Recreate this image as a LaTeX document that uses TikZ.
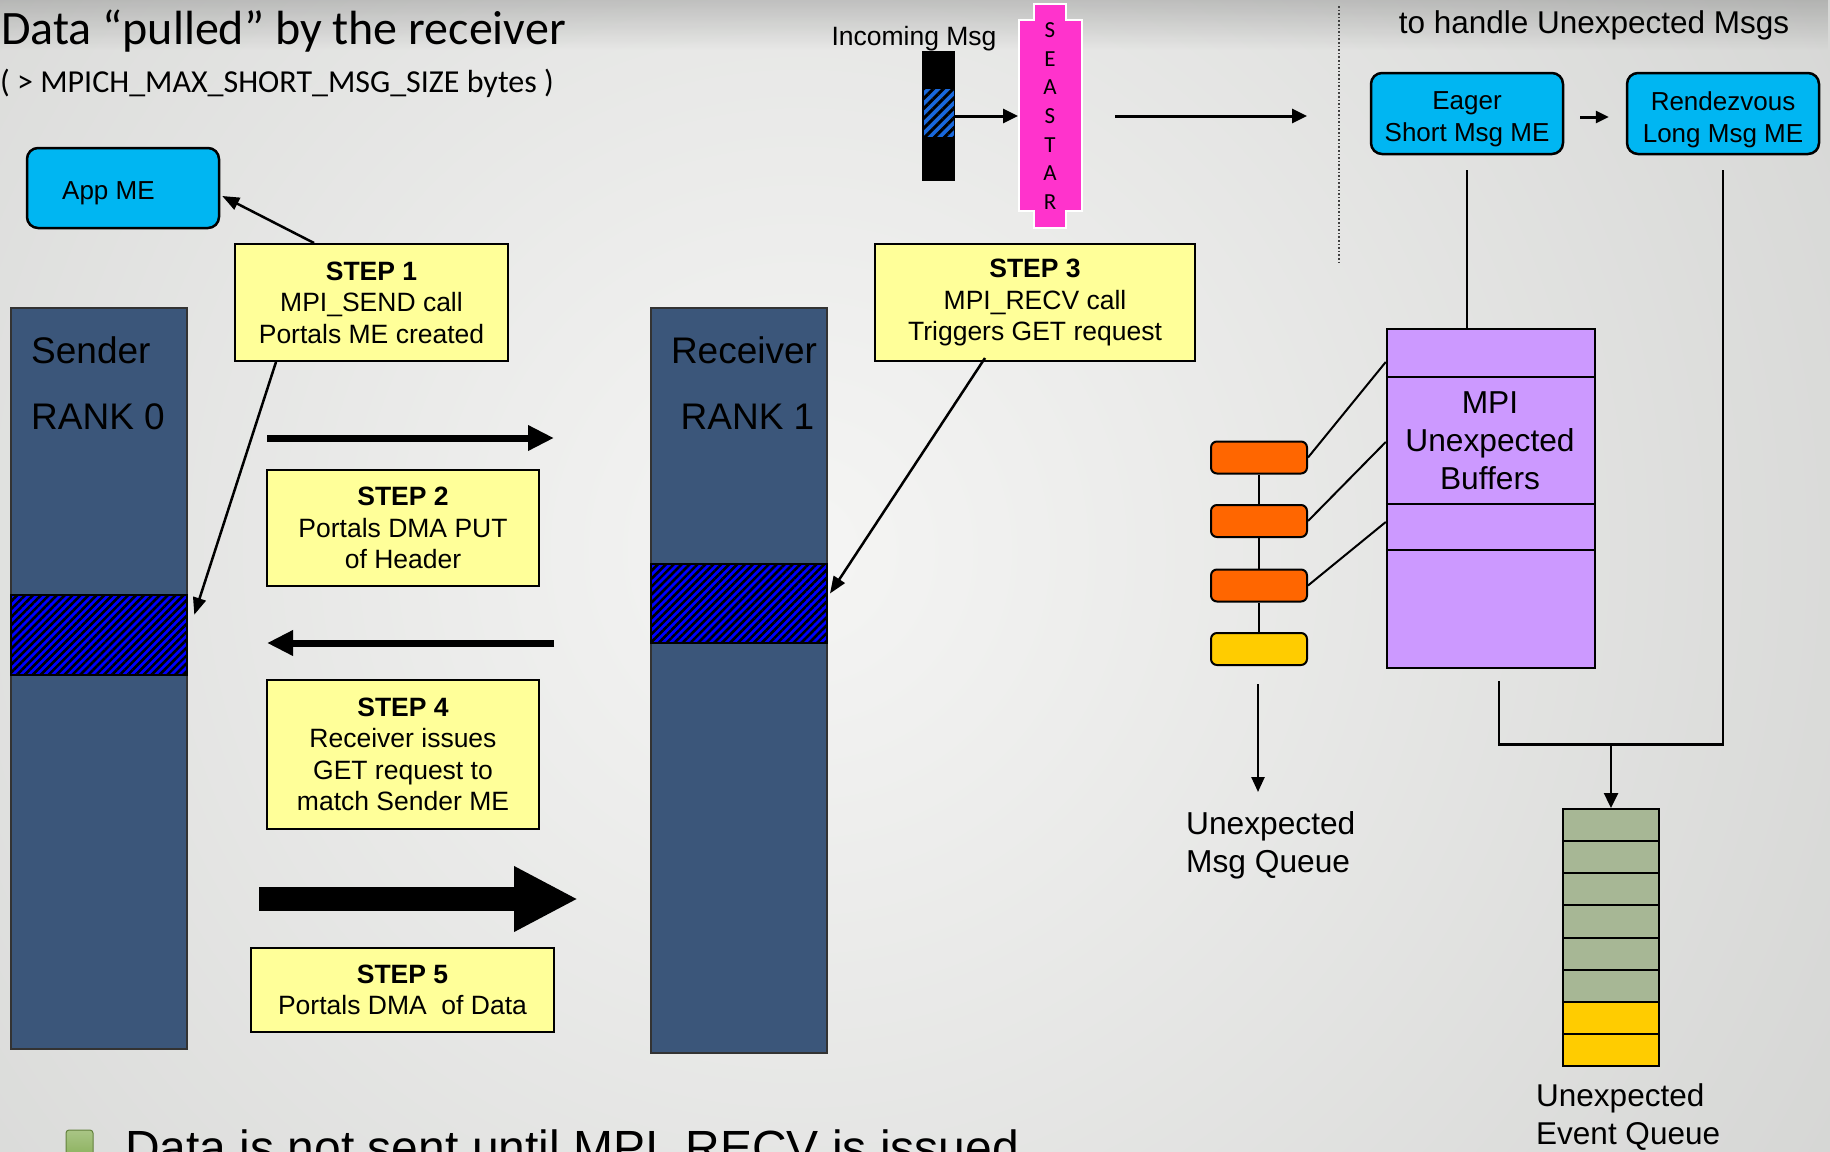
\documentclass[tikz,border=0pt]{standalone}
\usepackage{fontspec}
\setmainfont{Liberation Sans}
\newfontfamily\titlefont{Carlito}
\usetikzlibrary{arrows.meta,patterns.meta,calc,fadings}

\definecolor{bginner}{RGB}{245,245,244}
\definecolor{bgouter}{RGB}{206,207,205}
\definecolor{mecyan}{RGB}{0,182,242}
\definecolor{stepyel}{RGB}{255,255,153}
\definecolor{rankblue}{RGB}{59,86,122}
\definecolor{hatchblue}{RGB}{0,0,255}
\definecolor{msgblue}{RGB}{24,104,220}
\definecolor{seamag}{RGB}{255,51,204}
\definecolor{buflil}{RGB}{204,153,255}
\definecolor{qorange}{RGB}{255,102,0}
\definecolor{qyellow}{RGB}{255,204,0}
\definecolor{evgreen}{RGB}{167,183,149}
\definecolor{bulgreen}{RGB}{132,172,82}

\begin{document}
\begin{tikzpicture}[x=1pt,y=-1pt,
  mebox/.style={draw=black, line width=2.5pt, fill=mecyan, rounded corners=11pt,
    inner sep=0pt},
  metext/.style={inner sep=0pt, align=center, font=\fontsize{26}{32}\selectfont},
  stepbox/.style={draw=black, line width=2pt, fill=stepyel, inner sep=0pt,
    align=center, font=\fontsize{26.5}{31.5}\selectfont},
  rankbar/.style={draw=black!80, line width=2pt, fill=rankblue, inner sep=0pt},
  hatchband/.style={draw=black, line width=2pt, inner sep=0pt,
    preaction={fill=hatchblue},
    pattern={Lines[angle=45,distance=5.6pt,line width=2.6pt]}, pattern color=black},
  ranklabel/.style={font=\fontsize{37}{44}\selectfont, inner sep=0pt},
  ptr/.style={line width=2.5pt, -{Triangle[length=17pt,width=13pt]}},
  thinarrow/.style={line width=3pt, -{Triangle[length=15pt,width=14pt]}},
  msgarrow/.style={line width=7pt, -{Triangle[length=26pt,width=24pt]}},
  qbox/.style={draw=black, line width=2pt, rounded corners=6pt,
    minimum width=96pt, minimum height=32pt, inner sep=0pt},
  evrow/.style={draw=black, line width=2pt, minimum width=96pt,
    minimum height=32.1pt, inner sep=0pt},
  link/.style={line width=2.5pt},
  bigtext/.style={font=\fontsize{31.7}{38}\selectfont, inner sep=0pt, align=left},
]
\useasboundingbox (0,0) rectangle (1830,1151);

% background
\begin{scope}
  \clip (0,0) rectangle (1830,1151);
  \shade[inner color=bginner, outer color=bgouter] (800,550) circle (1500);
  \fill[black, opacity=0.17, path fading=south] (0,0) rectangle (1830,50);
\end{scope}

% headings
\node[anchor=base west, inner sep=0pt, font=\titlefont\fontsize{48}{56}\selectfont]
  (title) at (1,44.5) {Data “pulled” by the receiver};
\node[anchor=base west, inner sep=0pt, font=\titlefont\fontsize{32}{38}\selectfont]
  (subtitle) at (0,92) {( > MPICH\_MAX\_SHORT\_MSG\_SIZE bytes )};

% sender and receiver ranks
\node[rankbar, minimum width=176.5pt, minimum height=741pt] (sender) at (98.75,678.5) {};
\node[hatchband, minimum width=176.5pt, minimum height=80pt] (sband) at (98.75,635) {};
\node[ranklabel, anchor=west] (sname) at (31,350) {Sender};
\node[ranklabel, anchor=west] (srank) at (31,417) {RANK 0};

\node[rankbar, minimum width=176pt, minimum height=745pt] (receiver) at (739,680.5) {};
\node[hatchband, minimum width=176pt, minimum height=79pt] (rband) at (739,603.5) {};
\node[ranklabel] (rname) at (744,350) {Receiver};
\node[ranklabel] (rrank) at (747.5,417) {RANK 1};

% matching entry
\node[mebox, minimum width=192pt, minimum height=80pt] (appme) at (123,188) {};
\node[metext, anchor=west] (appmetext) at (62,193) {App ME};

% steps
\node[stepbox, minimum width=273pt, minimum height=117pt] (step1) at (371.5,302.5)
  {\textbf{STEP 1}\\MPI\_SEND call\\Portals ME created};
\node[stepbox, minimum width=272pt, minimum height=116pt] (step2) at (403,528)
  {\textbf{STEP 2}\\Portals DMA PUT\\of Header};
\node[stepbox, minimum width=320pt, minimum height=117pt] (step3) at (1035,302.5)
  {\textbf{STEP 3}\\MPI\_RECV call\\Triggers GET request};
\node[stepbox, minimum width=272pt, minimum height=149pt] (step4) at (403,754.5)
  {\textbf{STEP 4}\\Receiver issues\\GET request to\\match Sender ME};
\node[stepbox, minimum width=303pt, minimum height=84pt] (step5) at (402.5,990)
  {\textbf{STEP 5}\\Portals DMA \ of Data};

\draw[ptr] ($(step1.north west)+(80,0)$) -- ($(appme.east)+(2,8)$);
\draw[ptr] ($(step1.south west)+(42,0)$) -- ($(sband.north east)+(6,21)$);
\draw[ptr] ($(step3.south west)+(111,-4)$) -- ($(rband.east)+(2,-10)$);

% transfers between the ranks
\coordinate (puta) at (267,438);
\coordinate (putb) at (554,438);
\coordinate (geta) at (554,643);
\coordinate (getb) at (267,643);
\coordinate (data) at (259,899);
\coordinate (datb) at (578,899);
\draw[msgarrow] (puta) -- (putb);
\draw[msgarrow] (geta) -- (getb);
\draw[line width=24pt, -{Triangle[length=64pt,width=61pt]}] (data) -- (datb);

% incoming message and SeaStar
\node[draw=none, fill=black, minimum width=33pt, minimum height=130pt, inner sep=0pt]
  (msg) at (938.5,116) {};
\node[inner sep=0pt, minimum width=30pt, minimum height=48pt, preaction={fill=msgblue},
  pattern={Lines[angle=45,distance=7pt,line width=3pt]}, pattern color=black]
  (msgpart) at (939,113) {};
\node[anchor=base, inner sep=0pt, font=\fontsize{26.5}{32}\selectfont]
  (inmsg) at (914,45) {Incoming Msg};
\fill[seamag, draw=white, line width=1.2pt]
  (1034,4) -- (1066,4) -- (1066,20) -- (1082,20) -- (1082,211) -- (1066,211)
  -- (1066,228) -- (1034,228) -- (1034,211) -- (1019,211) -- (1019,20)
  -- (1034,20) -- cycle;
\node[inner sep=0pt, align=center, font=\titlefont\fontsize{23}{28.67}\selectfont]
  (seastar) at (1050,116) {S\\E\\A\\S\\T\\A\\R};
\coordinate (seain) at (1018,116);
\coordinate (seaouta) at (1115,116);
\coordinate (seaoutb) at (1307,116);
\draw[thinarrow] (msg.east |- seain) -- (seain);
\draw[thinarrow] (seaouta) -- (seaoutb);

% separator
\coordinate (septop) at (1339,6);
\coordinate (sepbot) at (1339,263);
\draw[line width=1.6pt, dotted, black!75] (septop) -- (sepbot);

% unexpected message handling
\node[anchor=base, inner sep=0pt, font=\fontsize{31.5}{38}\selectfont]
  (uxhead) at (1594,33) {to handle Unexpected Msgs};
\node[mebox, minimum width=192pt, minimum height=81pt] (eager) at (1467,113.5) {};
\node[metext] (eagertext) at (1467,119.5) {Eager\\Short Msg ME};
\node[mebox, minimum width=192pt, minimum height=81pt] (rdv) at (1723,113.5) {};
\node[metext] (rdvtext) at (1723,119.5) {Rendezvous\\Long Msg ME};
\draw[line width=3pt, -{Triangle[length=13pt,width=12pt]}]
  ($(eager.east)+(16,3.5)$) -- ($(rdv.west)+(-17,3.5)$);

\node[draw=black, line width=2.5pt, fill=buflil, minimum width=208pt,
  minimum height=339pt, inner sep=0pt] (mpi) at (1491,498.5) {};
\draw[line width=2.5pt] (mpi.west |- 0,377) -- (mpi.east |- 0,377);
\draw[line width=2.5pt] (mpi.west |- 0,504) -- (mpi.east |- 0,504);
\draw[line width=2.5pt] (mpi.west |- 0,550) -- (mpi.east |- 0,550);
\node[bigtext, align=center] (mpitext) at (1490,441) {MPI\\Unexpected\\Buffers};

\draw[link] ($(eager.south)+(0,15)$) -- (eager.south |- mpi.north);

% unexpected message queue
\node[qbox, fill=qorange] (q1) at (1259,457.5) {};
\node[qbox, fill=qorange] (q2) at (1259,521) {};
\node[qbox, fill=qorange] (q3) at (1259,585.5) {};
\node[qbox, fill=qyellow] (q4) at (1259,649) {};
\draw[link] (q1) -- (q2);
\draw[link] (q2) -- (q3);
\draw[link] (q3) -- (q4);
\draw[line width=2pt] (q1.east) -- (mpi.west |- 0,362);
\draw[line width=2pt] (q2.east) -- (mpi.west |- 0,442);
\draw[line width=2pt] (q3.east) -- (mpi.west |- 0,522);
\draw[line width=2.5pt, -{Triangle[length=15pt,width=13pt]}]
  ($(q4.south)+(-1,18)$) -- ($(q4.south)+(-1,126)$);
\node[bigtext, anchor=west] (uxq) at (1186,845) {Unexpected\\Msg Queue};

% unexpected event queue
\foreach \i in {1,...,6} {
  \node[evrow, fill=evgreen] (ev\i) at (1611,{809+32.125*(\i-0.5)}) {};
}
\foreach \i in {7,8} {
  \node[evrow, fill=qyellow] (ev\i) at (1611,{809+32.125*(\i-0.5)}) {};
}
\coordinate (evjoin) at (1611,743);
\draw[link] ($(rdv.south)+(0,15)$) |- ($(mpi.south)+(8,75)$) -- ($(mpi.south)+(8,12)$);
\draw[line width=2.5pt, -{Triangle[length=15pt,width=14pt]}] (evjoin) -- (ev1.north);
\node[bigtext, anchor=west, font=\fontsize{31.5}{37.5}\selectfont] (uxev) at (1536,1117)
  {Unexpected\\Event Queue};

% bullet line
\node[draw=bulgreen!75!black, line width=1pt, top color=bulgreen!70!white,
  bottom color=bulgreen, rounded corners=3pt,
  minimum width=27pt, minimum height=34pt, inner sep=0pt] (bullet) at (79.5,1147) {};
\node[anchor=base west, inner sep=0pt, font=\fontsize{48}{56}\selectfont]
  (note) at (125,1164) {Data is not sent until MPI\_RECV is issued};
\end{tikzpicture}
\end{document}
